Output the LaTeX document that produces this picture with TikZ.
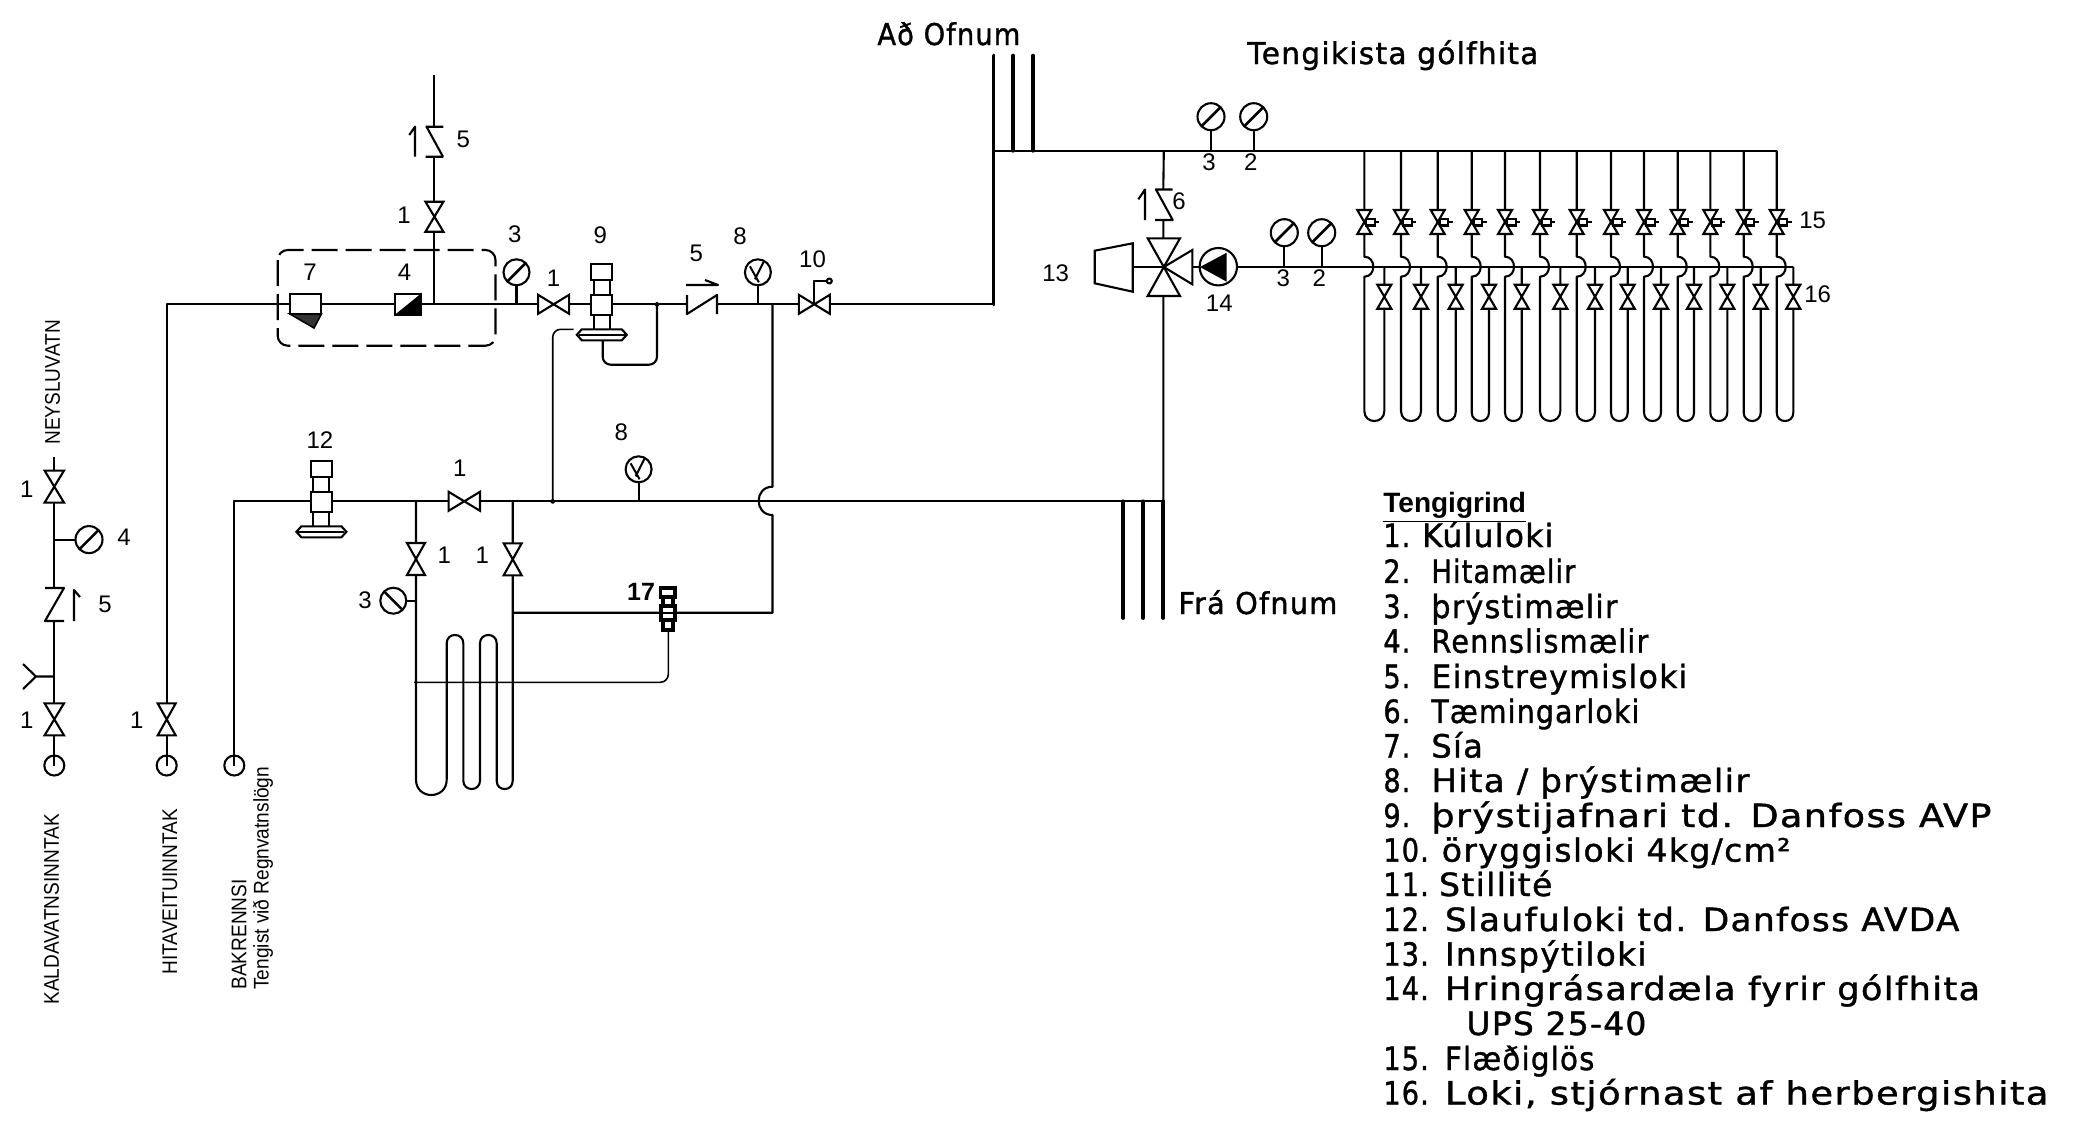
\documentclass[tikz,border=0pt]{standalone}
\usepackage{fontspec}
\usepackage{graphicx}
\setmainfont{Liberation Sans}
\newfontfamily\plotfont[LetterSpace=4,FakeBold=1.2]{DejaVu Sans}
\tikzset{
  x=0.5pt,y=-0.5pt,
  pipe/.style={draw=black,line width=1.05pt,line join=round},
  heavy/.style={draw=black,line width=1.9pt,line cap=round},
  sym/.style={draw=black,line width=1.05pt,line join=miter,fill=white},
  thin pipe/.style={draw=black,line width=0.8pt},
  needle/.style={draw=black,line width=1.3pt},
  lab/.style={inner sep=0pt,font=\fontsize{12}{14}\selectfont},
  side/.style={inner sep=0pt,rotate=90,anchor=west,font=\fontsize{10.6}{12}\selectfont},
  legtext/.style={inner sep=0pt,anchor=base west,font=\plotfont\fontsize{16}{18}\selectfont},
}
\newcommand{\vvalve}[4]{\draw[sym] (#1-#3,#2-#4) -- (#1+#3,#2-#4) -- (#1-#3,#2+#4) -- (#1+#3,#2+#4) -- cycle;}
\newcommand{\hvalve}[4]{\draw[sym] (#1-#3,#2-#4) -- (#1+#3,#2+#4) -- (#1+#3,#2-#4) -- (#1-#3,#2+#4) -- cycle;}
\newcommand{\gauge}[4]{\draw[sym] (#1,#2) circle [radius=#3];\draw[needle] (#1-0.72*#3,#2+#4*0.72*#3) -- (#1+0.72*#3,#2-#4*0.72*#3);}
\newcommand{\vgauge}[3]{\draw[sym] (#1,#2) circle [radius=#3];\draw[needle,line width=1pt] (#1+6,#2-11) -- (#1-3,#2+7) (#1-8,#2-6) -- (#1+1,#2+10);}
\newcommand{\actuator}[2]{%
  \draw[sym] (#1-8,#2-25) rectangle (#1+8,#2+26);
  \draw[sym] (#1-10.5,#2-40) rectangle (#1+10.5,#2-24);
  \draw[sym] (#1-10.5,#2-9.5) rectangle (#1+10.5,#2+10.5);
  \draw[sym] (#1-25,#2+30.5) -- (#1-20,#2+25) -- (#1+20,#2+25) -- (#1+25,#2+30.5) -- (#1+20,#2+36) -- (#1-20,#2+36) -- cycle;
  \draw[pipe,line width=0.8pt] (#1-23,#2+30.5) -- (#1+23,#2+30.5);}
\newcommand{\fit}[6]{\pgfmathsetlengthmacro{\legw}{(#4-#3)*0.5}
  \node[legtext] (#1) at (#3,#2) {\fontsize{#5}{18}\selectfont\resizebox{\legw}{\height}{#6}};}
\newcommand{\sq}[1]{\scalebox{0.9}[1]{#1}}
\begin{document}
\begin{tikzpicture}
\useasboundingbox (0,0) rectangle (2077,1126);
\fill[white] (0,0) rectangle (2077,1126);

% ---- named points of the pipe network
\coordinate (kTop) at (54.3,456.7);
\coordinate (kCirc) at (54.3,765.5);
\coordinate (hCirc) at (166.7,765.5);
\coordinate (bCirc) at (234.3,765.5);
\coordinate (hCorner) at (166.7,304.3);
\coordinate (aCorner) at (993.5,304.3);
\coordinate (aTop) at (993.5,55.6);
\coordinate (bCorner) at (234.3,501.3);
\coordinate (mainEnd) at (1163.3,501.3);
\coordinate (hdrEnd) at (1776.7,150.7);
\coordinate (hdrStart) at (993.5,150.7);
\coordinate (mix) at (1163.8,267);
\coordinate (manEnd) at (1793.3,266.7);

% ---- cold water column
\draw[pipe] (kTop) -- (54.3,588) (54.3,621) -- (kCirc);
\draw[pipe] (54.3,539.6) -- (75.5,539.6);
\draw[pipe] (54.3,676.5) -- (36,676.5) -- (23,664) (36,676.5) -- (23,689);
\draw[pipe] (45,588) -- (64,588) -- (45,621) -- (64,621);
\draw[pipe] (74,621) -- (74,590) -- (80,597);
\vvalve{54.3}{486.6}{9.7}{16}
\vvalve{54.3}{719.3}{9.7}{16}
\gauge{89}{539.6}{13.5}{1}
\draw[pipe] (kCirc) circle [radius=10];
\draw[pipe] (hCirc) circle [radius=10];
\draw[pipe] (bCirc) circle [radius=10];

% ---- district heating in
\draw[pipe] (hCirc) -- (hCorner) -- (aCorner);
\vvalve{166.7}{719.4}{9}{16}
\draw[pipe,dash pattern=on 13pt off 4pt,rounded corners=5pt] (277.7,250) rectangle (495.5,345.7);
\draw[sym] (290,294) rectangle (321.4,314);
\draw[draw=black,fill=black!80,line width=0.8pt] (290,314) -- (321.4,314) -- (314,328) -- cycle;
\draw[sym] (394.6,294) rectangle (420.5,315);
\fill[black] (420.5,294) -- (420.5,315) -- (394.6,315) -- cycle;
\draw[pipe] (434.4,304.3) -- (434.4,157) (434.4,126.7) -- (434.4,75);
\draw[pipe] (425.7,126.7) -- (443.3,126.7) (426.5,126.7) -- (443,156.7) (425.7,156.7) -- (443.3,156.7);
\draw[pipe] (415,156.7) -- (415,126.7) -- (409.3,135);
\vvalve{434.4}{216.7}{9}{15}
\draw[pipe] (516.5,304.3) -- (516.5,285);
\gauge{516.5}{272.3}{13}{1}
\hvalve{553.6}{304.3}{15.5}{9.5}
\draw[pipe,rounded corners=4pt] (602.7,340) -- (602.7,364.7) -- (657,364.7) -- (657,304.3);
\draw[thin pipe,rounded corners=4pt] (573.7,329.3) -- (552.7,329.3) -- (552.7,501.3);
\actuator{601.8}{304.3}
\draw[pipe,fill=white] (657,304.3) circle [radius=1.5];
\draw[pipe,fill=white] (552.7,501.3) circle [radius=1.5];
\draw[draw=white,fill=white] (688,296) rectangle (716,313);
\draw[pipe] (687,295) -- (687,314) -- (717,295) -- (717,314);
\draw[pipe] (686,285) -- (718,285) -- (705,280);
\draw[pipe] (757.9,304.3) -- (757.9,285);
\vgauge{757.9}{272.3}{13}
\hvalve{814.3}{304.3}{15.5}{9.5}
\draw[pipe] (814.3,304.3) -- (814.3,281) -- (826.8,281);
\draw[pipe,fill=white] (829.3,281) circle [radius=2.5];
\draw[pipe] (772.5,304.3) -- (772.5,486.7) .. controls (754,486.7) and (754,515) .. (772.5,515) -- (772.5,612.7) -- (512.7,612.7);

% ---- lower main line
\draw[pipe] (bCirc) -- (bCorner) -- (mainEnd);
\actuator{321.4}{501.3}
\hvalve{464.3}{501.3}{15.7}{9.5}
\draw[pipe] (638.6,501.3) -- (638.6,482);
\vgauge{638.6}{469.3}{13}
\draw[pipe] (416,501.3) -- (416,779.6) .. controls (416,800.1) and (446.7,800.1) .. (446.7,779.6) -- (446.7,643.3) .. controls (446.7,632.2) and (463.3,632.2) .. (463.3,643.3) -- (463.3,780.6) .. controls (463.3,791.8) and (480,791.8) .. (480,780.6) -- (480,643.3) .. controls (480,632.2) and (496.7,632.2) .. (496.7,643.3) -- (496.7,781) .. controls (496.7,791.7) and (512.7,791.7) .. (512.7,781) -- (512.7,501.3);
\vvalve{416}{559}{9}{16}
\vvalve{512.7}{559.3}{9}{16}
\draw[pipe] (416,600.7) -- (406.3,600.7);
\gauge{393.3}{600.7}{13}{-1}
\draw[thin pipe,rounded corners=4pt] (414,682.3) -- (668.3,682.3) -- (668.3,630);
\draw[sym,line width=1.6pt] (660.7,588) rectangle (675,597);
\draw[sym,line width=1.6pt] (663,597) rectangle (673,606);
\draw[sym,line width=1.6pt] (661,606) rectangle (675,620);
\draw[pipe] (661,613) -- (675,613);
\draw[sym,line width=1.6pt] (663,620) rectangle (673,630);

% ---- pipes to/from radiators
\draw[pipe] (hdrStart) -- (hdrEnd);
\draw[heavy] (aTop) -- (aCorner);
\draw[heavy] (1013.3,55.6) -- (1013.3,150.7);
\draw[heavy] (1033,55.6) -- (1033,150.7);
\draw[heavy] (1123.3,501.3) -- (1123.3,618);
\draw[heavy] (1143,501.3) -- (1143,618);
\draw[heavy] (1163.3,501.3) -- (1163.3,618);
\draw[pipe] (1211,150.7) -- (1211,130) (1253.7,150.7) -- (1253.7,130);
\gauge{1211}{116.7}{13.5}{1}
\gauge{1253.7}{116.7}{13.5}{1}
\draw[pipe] (hdrStart -| mix) -- (1163.3,189.5) (1163.3,220) -- (1163.3,238) (1163.3,296) -- (mainEnd);
\draw[pipe] (1155,189.5) -- (1172.7,189.5) (1156,189.5) -- (1172.7,220) -- (1155,220);
\draw[pipe] (1145,220) -- (1145,189.5) -- (1138.3,199.3);
\draw[pipe] (1133,267) -- (mix) -- (1199,267);
\draw[sym] (mix) -- (1147.7,238.3) -- (1180,238.3) -- cycle;
\draw[sym] (mix) -- (1147.7,296) -- (1180,296) -- cycle;
\draw[sym] (mix) -- (1192.3,250) -- (1192.3,284.3) -- cycle;
\draw[pipe] (mix) -- (1133,267);
\draw[sym] (1132.7,243.3) -- (1094.7,250.7) -- (1094.7,283.3) -- (1132.7,291.7) -- cycle;
\fill[black] (mix) circle [radius=2.5];
\draw[sym] (1218.3,266.7) circle [radius=18.7];
\fill[black] (1200,267) -- (1226.7,252.7) -- (1226.7,281.7) -- cycle;
\draw[pipe] (1237,266.7) -- (manEnd);
\draw[pipe] (1284.3,266.7) -- (1284.3,246) (1321.7,266.7) -- (1321.7,246);
\gauge{1284.3}{232.7}{13.5}{1}
\gauge{1321.7}{232.7}{13.5}{1}
\foreach \xa/\xb in {1364.3/1384.3,1401/1421,1437.7/1455.7,1471.7/1489,1505/1521.7,1540/1560.3,1576.7/1595,1611/1627.7,1644/1661,1677.7/1694,1710.3/1727.3,1743.7/1760.7,1776.7/1793.3}{
  \pgfmathsetmacro{\rr}{(\xb-\xa)/2}
  \pgfmathsetmacro{\ys}{421-\rr}
  \pgfmathsetmacro{\yc}{\ys+1.333*\rr}
  \draw[pipe] (\xa,150.7) -- (\xa,256.7) .. controls (\xa+12,256.7) and (\xa+12,276.7) .. (\xa,276.7) -- (\xa,\ys) .. controls (\xa,\yc) and (\xb,\yc) .. (\xb,\ys) -- (\xb,266.7);
  \vvalve{\xa}{222}{7}{12}
  \draw[sym] (\xa+2,219) rectangle (\xa+10.7,225.5);
  \draw[pipe] (\xa+10.7,222) -- (\xa+15,222);
  \vvalve{\xb}{296.7}{7}{12}
}

% ---- small labels
\node[lab] (n5a) at (463.3,139) {5};
\node[lab] (n1a) at (404,215.7) {1};
\node[lab] (n7) at (310,272) {7};
\node[lab] (n4a) at (404.5,272.7) {4};
\node[lab] (n3a) at (514.7,234) {3};
\node[lab] (n1b) at (553.6,278) {1};
\node[lab] (n9) at (600.4,235) {9};
\node[lab] (n5b) at (696.4,253) {5};
\node[lab] (n8a) at (740,236) {8};
\node[lab] (n10) at (812.5,259) {10};
\node[lab] (n12) at (320,440) {12};
\node[lab] (n1c) at (459.8,468.3) {1};
\node[lab] (n8b) at (621.4,432) {8};
\node[lab] (n1d) at (444.3,555) {1};
\node[lab] (n1e) at (482.3,555) {1};
\node[lab] (n3b) at (365,600.7) {3};
\node[lab,font=\bfseries\fontsize{12.5}{14}\selectfont] (n17) at (641,591.7) {17};
\node[lab] (n1f) at (26.7,489) {1};
\node[lab] (n4b) at (124,537) {4};
\node[lab] (n5c) at (105,604) {5};
\node[lab] (n1g) at (26.7,720) {1};
\node[lab] (n1h) at (136.7,720) {1};
\node[lab] (n3c) at (1209,162) {3};
\node[lab] (n2c) at (1250.7,162) {2};
\node[lab] (n6) at (1179,201.7) {6};
\node[lab] (n13) at (1055.7,273.3) {13};
\node[lab] (n14) at (1219.3,303.3) {14};
\node[lab] (n3d) at (1283.3,278.3) {3};
\node[lab] (n2d) at (1319.3,278.3) {2};
\node[lab] (n15) at (1812.7,220) {15};
\node[lab] (n16) at (1817.7,294.3) {16};

% ---- rotated labels
\node[side] (sNey) at (52.7,445) {\sq{NEYSLUVATN}};
\node[side] (sKald) at (51.7,1005) {\sq{KALDAVATNSINNTAK}};
\node[side] (sHita) at (170,975) {\sq{HITAVEITUINNTAK}};
\node[side] (sBak) at (239,990) {\sq{BAKRENNSI}};
\node[side] (sTeng) at (263,990) {\sq{Tengist við Regnvatnslögn}};

% ---- titles
\fit{tAd}{45}{877}{1020}{15}{Að Ofnum}
\fit{tTeng}{64}{1247}{1538}{15}{Tengikista gólfhita}
\fit{tFra}{614}{1178}{1337}{15}{Frá Ofnum}

% ---- legend
\node[inner sep=0pt,anchor=base west,font=\bfseries\fontsize{14}{16}\selectfont] (lHead) at (1383,512.7) {\underline{Tengigrind}};
\foreach \nm/\by/\num in {a/547/1.,b/582.9/2.,c/618/3.,d/652.7/4.,e/688/5.,f/722.9/6.,g/757.5/7.,h/792/8.,i/827/9.,j/861.6/10.,k/896/11.,l/931/12.,m/965.7/13.,n/1000/14.,o/1070/15.,p/1104.5/16.}{
  \node[legtext] (ln\nm) at (1383,\by) {\scalebox{0.85}[1]{\num}};
}
\fit{la}{547}{1421.7}{1553}{16}{Kúluloki}
\fit{lb}{582.9}{1431}{1575}{16}{Hitamælir}
\fit{lc}{618}{1431}{1617}{16}{þrýstimælir}
\fit{ld}{652.7}{1431}{1648}{16}{Rennslismælir}
\fit{le}{688}{1431}{1687}{16}{Einstreymisloki}
\fit{lf}{722.9}{1431}{1639}{16}{Tæmingarloki}
\fit{lg}{757.5}{1431}{1482.5}{16}{Sía}
\fit{lh}{792}{1431}{1749}{16}{Hita / þrýstimælir}
\fit{li}{827}{1431}{1991}{16}{þrýstijafnari td. Danfoss AVP}
\fit{lj}{861.6}{1441.4}{1790}{16}{öryggisloki 4kg/cm²}
\fit{lk}{896}{1438.6}{1552}{16}{Stillité}
\fit{ll}{931}{1444.6}{1959}{16}{Slaufuloki td. Danfoss AVDA}
\fit{lm}{965.7}{1444.6}{1646}{16}{Innspýtiloki}
\fit{ln}{1000}{1444.6}{1979.6}{16}{Hringrásardæla fyrir gólfhita}
\fit{lu}{1035}{1466}{1646}{16}{UPS 25-40}
\fit{lo}{1070}{1444.6}{1594}{16}{Flæðiglös}
\fit{lp}{1104.5}{1444.6}{2048}{16}{Loki, stjórnast af herbergishita}
\end{tikzpicture}
\end{document}
